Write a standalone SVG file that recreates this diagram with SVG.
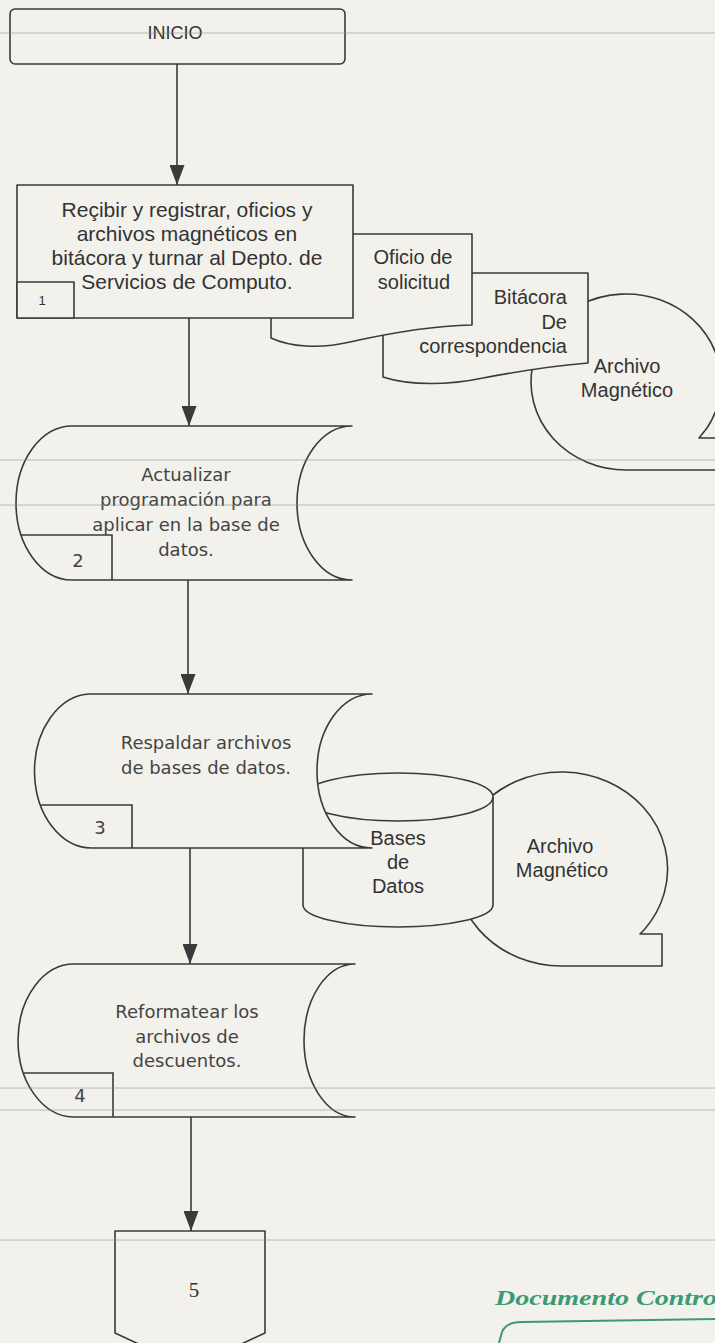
<svg xmlns="http://www.w3.org/2000/svg" width="715" height="1343" viewBox="0 0 715 1343">
  <style>
    .shape { fill: #f2f1eb; stroke: #3a3a3a; stroke-width: 1.6; stroke-linejoin: round; }
    .line { fill: none; stroke: #3a3a3a; stroke-width: 1.6; }
    .conn { fill: none; stroke: #3a3a3a; stroke-width: 1.6; marker-end: url(#arrow); }
    .arial { font-family: "Liberation Sans", Arial, sans-serif; fill: #333; }
    .deja { font-family: "DejaVu Sans", "Liberation Sans", sans-serif; fill: #444; }
    .mid { text-anchor: middle; }
    .end { text-anchor: end; }
    .scan { stroke: #8c8c8c; stroke-width: 1; opacity: 0.55; }
  </style>
  <defs>
    <marker id="arrow" viewBox="0 0 20 15" refX="20" refY="7.5" markerWidth="20" markerHeight="15" markerUnits="userSpaceOnUse" orient="auto">
      <path d="M0,0 L20,7.5 L0,15 Z" fill="#3a3a3a"/>
    </marker>
  </defs>

  <!-- paper -->
  <rect x="0" y="0" width="715" height="1343" fill="#f2f1eb"/>

  <!-- start terminal -->
  <g id="inicio">
    <rect class="shape" x="10" y="9" width="335" height="55" rx="5"/>
    <text class="arial mid" x="175" y="39" font-size="18">INICIO</text>
  </g>

  <!-- magnetic tape, step 1 (drawn first: it sits behind the documents) -->
  <g id="archivo-magnetico-1">
    <path class="shape" d="M707,428 L699,438 L740,438 L740,470 L626,470 A95,88 0 1 1 707,428 Z"/>
    <text class="arial mid" x="627" y="373" font-size="20">Archivo</text>
    <text class="arial mid" x="627" y="397" font-size="20">Magnético</text>
  </g>

  <!-- document: logbook -->
  <g id="bitacora">
    <path class="shape" d="M383,377 L383,273 L588,273 L588,363 C550,366 520,371 483,378 C450,385 410,386 383,377 Z"/>
    <text class="arial end" x="567" y="304" font-size="20">Bitácora</text>
    <text class="arial end" x="567" y="329" font-size="20">De</text>
    <text class="arial end" x="567" y="353" font-size="20">correspondencia</text>
  </g>

  <!-- document: request letter -->
  <g id="oficio">
    <path class="shape" d="M271,338 L271,234 L472,234 L472,325 C430,326 390,333 350,342 C320,349 290,347 271,338 Z"/>
    <text class="arial mid" x="413" y="264" font-size="20">Oficio de</text>
    <text class="arial mid" x="414" y="289" font-size="20">solicitud</text>
  </g>

  <!-- step 1 -->
  <g id="paso-1">
    <rect class="shape" x="17" y="185" width="336" height="133"/>
    <rect class="shape" x="17" y="282" width="57" height="36"/>
    <text class="arial mid" x="42" y="305" font-size="13">1</text>
    <text class="arial mid" x="187" y="217" font-size="21">Reçibir y registrar, oficios y</text>
    <text class="arial mid" x="187" y="241" font-size="21">archivos magnéticos  en</text>
    <text class="arial mid" x="187" y="265" font-size="21">bitácora y turnar al Depto. de</text>
    <text class="arial mid" x="187" y="289" font-size="21">Servicios de Computo.</text>
  </g>

  <!-- step 2 -->
  <g id="paso-2">
    <path class="shape" d="M72,426 L352,426 A55,77 0 0 0 352,580 L72,580 A56,77 0 0 1 72,426 Z"/>
    <path class="line" d="M21,535 H112 V580"/>
    <text class="deja mid" x="78" y="567" font-size="18">2</text>
    <text class="deja mid" x="186" y="481" font-size="18">Actualizar</text>
    <text class="deja mid" x="186" y="506" font-size="18">programación para</text>
    <text class="deja mid" x="186" y="531" font-size="18">aplicar en la base de</text>
    <text class="deja mid" x="186" y="556" font-size="18">datos.</text>
  </g>

  <!-- magnetic tape, step 3 -->
  <g id="archivo-magnetico-2">
    <path class="shape" d="M644,930 L640,934 L662,934 L662,966 L562,966 A106,97 0 1 1 644,930 Z"/>
    <text class="arial mid" x="560" y="853" font-size="20">Archivo</text>
    <text class="arial mid" x="562" y="877" font-size="20">Magnético</text>
  </g>

  <!-- database cylinder -->
  <g id="bases-de-datos">
    <path class="shape" d="M303,797 A95,24 0 0 1 493,797 V905 A95,22 0 0 1 303,905 Z"/>
    <path class="line" d="M303,797 A95,24 0 0 0 493,797"/>
    <text class="arial mid" x="398" y="845" font-size="20">Bases</text>
    <text class="arial mid" x="398" y="869" font-size="20">de</text>
    <text class="arial mid" x="398" y="893" font-size="20">Datos</text>
  </g>

  <!-- step 3 -->
  <g id="paso-3">
    <path class="shape" d="M90,694 L372,694 A55,77 0 0 0 372,848 L93,848 A57,77 0 0 1 90,694 Z"/>
    <path class="line" d="M41,805 H132 V848"/>
    <text class="deja mid" x="100" y="834" font-size="18">3</text>
    <text class="deja mid" x="206" y="749" font-size="18">Respaldar archivos</text>
    <text class="deja mid" x="206" y="774" font-size="18">de bases de datos.</text>
  </g>

  <!-- step 4 -->
  <g id="paso-4">
    <path class="shape" d="M75,964 L355,964 A51,76.5 0 0 0 355,1117 L73,1117 A56,76.5 0 0 1 75,964 Z"/>
    <path class="line" d="M24,1073 H113 V1117"/>
    <text class="deja mid" x="80" y="1102" font-size="18">4</text>
    <text class="deja mid" x="187" y="1018" font-size="18">Reformatear los</text>
    <text class="deja mid" x="187" y="1043" font-size="18">archivos de</text>
    <text class="deja mid" x="187" y="1067" font-size="18">descuentos.</text>
  </g>

  <!-- off-page connector -->
  <g id="conector-5">
    <path class="shape" d="M115,1231 H265 V1333 L190,1368 L115,1333 Z"/>
    <text x="194" y="1297" font-size="21" text-anchor="middle" font-family="Liberation Serif, serif" fill="#333">5</text>
  </g>

  <!-- flow connectors -->
  <g id="connectors">
    <line class="conn" x1="177" y1="64" x2="177" y2="185"/>
    <line class="conn" x1="189" y1="318" x2="189" y2="426"/>
    <line class="conn" x1="188" y1="580" x2="188" y2="694"/>
    <line class="conn" x1="190" y1="848" x2="190" y2="964"/>
    <line class="conn" x1="191" y1="1117" x2="191" y2="1231"/>
  </g>

  <!-- ruled guide lines of the sheet -->
  <g id="guides">
    <line class="scan" x1="0" y1="33" x2="715" y2="33"/>
    <line class="scan" x1="0" y1="460" x2="715" y2="460"/>
    <line class="scan" x1="0" y1="505" x2="715" y2="505"/>
    <line class="scan" x1="0" y1="1088" x2="715" y2="1088"/>
    <line class="scan" x1="0" y1="1110" x2="715" y2="1110"/>
    <line class="scan" x1="0" y1="1240" x2="715" y2="1240"/>
  </g>

  <!-- control stamp -->
  <g id="sello">
    <text x="495" y="1305" font-size="22" font-family="Liberation Serif, serif" font-style="italic" font-weight="bold" fill="#3b9a74" textLength="222" lengthAdjust="spacingAndGlyphs">Documento Contro</text>
    <path d="M499,1343 L502,1332 Q506,1322 522,1322 L715,1319" fill="none" stroke="#3b9a74" stroke-width="2"/>
  </g>
</svg>
